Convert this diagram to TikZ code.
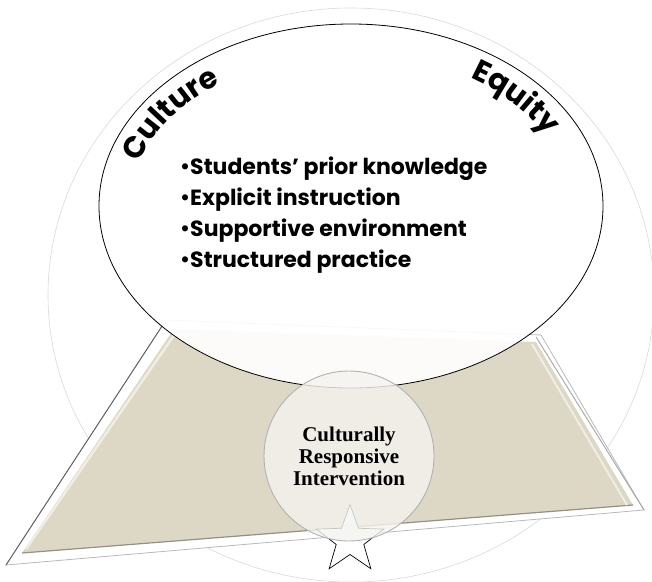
\documentclass[tikz,border=0pt]{standalone}
\usepackage{fontspec}
\setmainfont{Liberation Serif}
\newfontfamily\gothic{Poppins}
\usetikzlibrary{shapes.geometric,decorations.text}
\definecolor{plate}{RGB}{221,215,197}
\definecolor{plateedge}{RGB}{150,144,128}
\definecolor{lens}{RGB}{244,243,238}
\newcommand{\blt}{\raisebox{0.8pt}{\fontsize{20}{20}\selectfont•}}
\tikzset{
  faint/.style={draw=gray!30, line width=0.6pt},
  bodytxt/.style={font=\gothic\bfseries\fontsize{22}{22}\selectfont, anchor=base west, inner sep=0pt},
  arctxt/.style={decorate, decoration={text along path, text align=center, text format delimiters={|}{|}}},
}
\begin{document}
\begin{tikzpicture}[x=1pt,y=1pt]
\useasboundingbox (0,0) rectangle (652,-581);
% faint background ellipse
\draw[faint] (351,-295) ellipse [x radius=303, y radius=287];
% bevelled plate
\filldraw[fill=white, draw=gray!55, line width=0.8pt] (166,-320) -- (541,-335) -- (644,-510) -- (6,-565) -- cycle;
\fill[plate] (174,-329) -- (536,-342) -- (633,-505) -- (22,-553) -- cycle;
\draw[plateedge, line width=1.2pt] (22,-553) -- (633,-505);
\draw[white!55!plate, line width=2.5pt] (26,-549) -- (177,-331);
\draw[white!55!plate, line width=2pt] (532,-344) -- (627,-505);
\draw[gray!75!black, line width=0.9pt] (6,-565) -- (166,-320);
\draw[gray!70, line width=0.9pt] (536,-337) -- (644,-510);
% main ellipse
\filldraw[fill=white, fill opacity=0.92, draw=black, line width=0.8pt] (351,-206) ellipse [x radius=252, y radius=182];
% star
\node[star, star points=5, star point ratio=2.45, minimum size=71pt, inner sep=0pt, draw=black, fill=white, line width=0.7pt] (star) at (350,-540) {};
% lens circle with label
\node[circle, minimum size=170pt, inner sep=0pt, fill=lens, fill opacity=0.82, text opacity=1, draw=gray!60, line width=0.9pt, align=center, font=\bfseries\fontsize{21}{22}\selectfont] (cri) at (349,-456) {Culturally\\Responsive\\Intervention};
% curved labels
\path[arctxt, decoration={text={|\gothic\bfseries\fontsize{30}{30}\selectfont|Culture}}] (130.2,-189.9) arc[start angle=172, end angle=118, x radius=223, y radius=159];
\path[arctxt, decoration={text={|\gothic\bfseries\fontsize{30}{30}\selectfont|Equity}}] (427.3,-62.6) arc[start angle=70, end angle=13, x radius=223, y radius=159];
% bullet list
\node[bodytxt] (l1) at (180,-174) {\blt Students’ prior knowledge};
\node[bodytxt] (l2) at (180,-205) {\blt Explicit instruction};
\node[bodytxt] (l3) at (180,-236) {\blt Supportive environment};
\node[bodytxt] (l4) at (180,-267) {\blt Structured practice};
\end{tikzpicture}
\end{document}
